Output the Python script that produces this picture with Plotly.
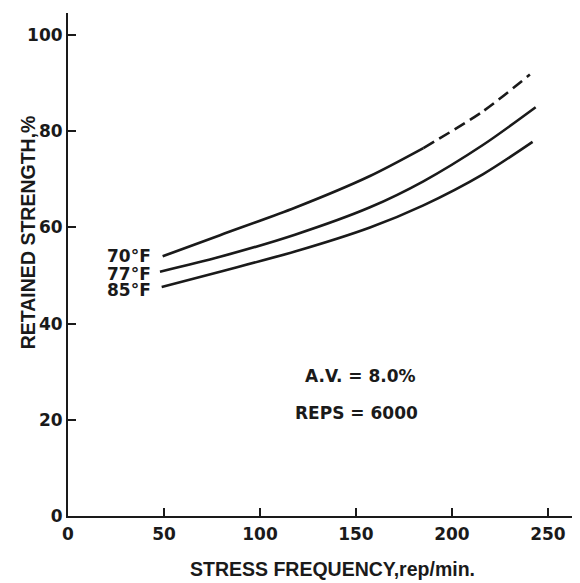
import plotly.graph_objects as go

# data
x70_solid = [49.3, 79.2, 118.2, 157.3, 185.1]
y70_solid = [54.0, 58.4, 64.1, 70.7, 76.5]
x70_dash = [185.1, 216.3, 240.6]
y70_dash = [76.5, 84.2, 91.8]
x77 = [47.9, 79.2, 118.2, 157.3, 185.1, 216.3, 243.6]
y77 = [50.8, 53.9, 58.5, 64.2, 69.6, 77.2, 85.0]
x85 = [48.8, 79.2, 118.2, 157.3, 185.1, 216.3, 242.0]
y85 = [47.6, 50.8, 55.0, 60.0, 64.6, 71.1, 77.8]

labels = ["70°F", "77°F", "85°F"]
label_y = [53.6, 50.0, 46.6]

xticks = [0, 50, 100, 150, 200, 250]
yticks = [0, 20, 40, 60, 80, 100]

INK = "#1a1a1a"
TICKFONT = "DejaVu Sans, sans-serif"
TITLEFONT = "Liberation Sans, Arial, sans-serif"
line = dict(color=INK, width=2.6, shape="spline", smoothing=0.8)

fig = go.Figure()
fig.add_trace(go.Scatter(x=x70_solid, y=y70_solid, mode="lines", line=line))
fig.add_trace(go.Scatter(x=x70_dash, y=y70_dash, mode="lines",
                         line=dict(line, dash="12px,6px")))
fig.add_trace(go.Scatter(x=x77, y=y77, mode="lines", line=line))
fig.add_trace(go.Scatter(x=x85, y=y85, mode="lines", line=line))

annotations = []
for lab, ly in zip(labels, label_y):
    annotations.append(dict(x=44.4, y=ly, xref="x", yref="y", text=f"<b>{lab}</b>",
                            showarrow=False, xanchor="right", yanchor="middle", yshift=2,
                            font=dict(family=TICKFONT, size=17, color=INK)))
annotations.append(dict(x=152.1, y=29.0, xref="x", yref="y", text="<b>A.V. = 8.0%</b>",
                        showarrow=False, yshift=1,
                        font=dict(family=TICKFONT, size=17, color=INK)))
annotations.append(dict(x=150.5, y=21.15, xref="x", yref="y", text="<b>REPS = 6000</b>",
                        showarrow=False, yshift=1,
                        font=dict(family=TICKFONT, size=17, color=INK)))
annotations.append(dict(x=138, y=-0.105, xref="x", yref="paper",
                        text="<b>STRESS FREQUENCY,rep/min.</b>", showarrow=False,
                        yanchor="middle", font=dict(family=TITLEFONT, size=19.5, color=INK)))
annotations.append(dict(x=-0.0775, y=59.07, xref="paper", yref="y",
                        text="<b>RETAINED STRENGTH,%</b>", showarrow=False, textangle=-90,
                        xanchor="center", yanchor="middle",
                        font=dict(family=TITLEFONT, size=19.5, color=INK)))

fig.update_layout(
    width=580, height=583,
    margin=dict(l=60, r=8, t=5, b=75),
    paper_bgcolor="white", plot_bgcolor="white",
    showlegend=False,
    annotations=annotations,
    xaxis=dict(range=[0, 266.7], tickvals=xticks, ticks="inside", ticklen=8, tickwidth=1.5,
               tickcolor=INK, showline=True, linecolor=INK, linewidth=2,
               showgrid=False, zeroline=False, ticklabelstandoff=2,
               tickfont=dict(family=TICKFONT, size=17, color=INK, weight="bold")),
    yaxis=dict(range=[0, 104.6], tickvals=yticks, ticks="inside", ticklen=8, tickwidth=1.5,
               tickcolor=INK, showline=True, linecolor=INK, linewidth=2,
               showgrid=False, zeroline=False, ticklabelstandoff=0,
               tickfont=dict(family=TICKFONT, size=17, color=INK, weight="bold")),
)

fig.write_html("out.html")
